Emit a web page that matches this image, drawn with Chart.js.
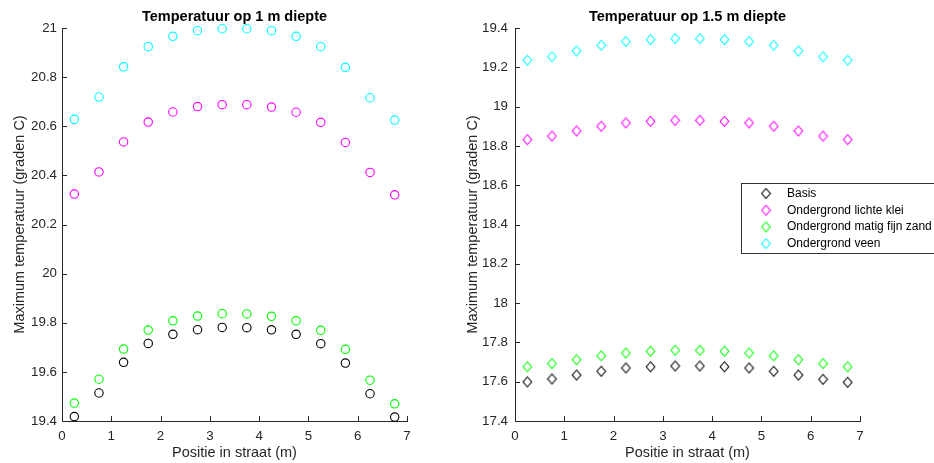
<!DOCTYPE html>
<html>
<head>
<meta charset="utf-8">
<script src="https://cdn.jsdelivr.net/npm/chart.js@4.4.1/dist/chart.umd.min.js"></script>
<style>
  html, body { margin: 0; padding: 0; background: #fff; }
  #wrap { position: relative; width: 934px; height: 463px; overflow: hidden; background: #fff; }
  #wrap canvas { position: absolute; top: 0; }
  #left { left: 0; }
  #right { left: 453px; }
</style>
</head>
<body>
<div id="wrap">
  <canvas id="left" width="453" height="463"></canvas>
  <canvas id="right" width="481" height="463"></canvas>
</div>
<script>
// positie in de straat (m)
const positie = [0.25, 0.75, 1.25, 1.75, 2.25, 2.75, 3.25, 3.75, 4.25, 4.75, 5.25, 5.75, 6.25, 6.75];

// maximum temperatuur op 1 m diepte
const basis1m = [19.418, 19.514, 19.639, 19.716, 19.753, 19.772, 19.781, 19.780, 19.771, 19.753, 19.715, 19.636, 19.511, 19.416];
const klei1m  = [20.324, 20.414, 20.536, 20.617, 20.658, 20.680, 20.688, 20.688, 20.678, 20.657, 20.616, 20.534, 20.412, 20.321];
const zand1m  = [19.473, 19.570, 19.693, 19.770, 19.808, 19.827, 19.837, 19.836, 19.826, 19.808, 19.769, 19.692, 19.566, 19.470];
const veen1m  = [20.628, 20.719, 20.842, 20.924, 20.966, 20.989, 20.997, 20.997, 20.989, 20.966, 20.924, 20.840, 20.716, 20.625];

// maximum temperatuur op 1.5 m diepte
const basis15m = [17.599, 17.614, 17.634, 17.653, 17.670, 17.676, 17.680, 17.680, 17.676, 17.670, 17.653, 17.634, 17.612, 17.597];
const klei15m  = [18.832, 18.850, 18.876, 18.900, 18.917, 18.925, 18.930, 18.930, 18.925, 18.917, 18.900, 18.876, 18.850, 18.832];
const zand15m  = [17.676, 17.692, 17.712, 17.732, 17.746, 17.755, 17.760, 17.760, 17.755, 17.746, 17.732, 17.712, 17.692, 17.676];
const veen15m  = [19.236, 19.254, 19.283, 19.312, 19.331, 19.341, 19.346, 19.346, 19.341, 19.331, 19.312, 19.283, 19.254, 19.236];

const reeksen = ['Basis', 'Ondergrond lichte klei', 'Ondergrond matig fijn zand', 'Ondergrond veen'];
const kleuren = ['#000000', '#ff00ff', '#00ff00', '#00ffff'];

// as-ticks
const xTicks = [0, 1, 2, 3, 4, 5, 6, 7];
const yTicks1m = [19.4, 19.6, 19.8, 20, 20.2, 20.4, 20.6, 20.8, 21];
const yTicks15m = [17.4, 17.6, 17.8, 18, 18.2, 18.4, 18.6, 18.8, 19, 19.2, 19.4];

const AXIS = '#262626';
const FONT = "'Liberation Sans', Arial, Helvetica, sans-serif";

// ruit-marker (iets hoger dan breed)
function ruit(kleur) {
  const c = document.createElement('canvas');
  c.width = 11; c.height = 13;
  const g = c.getContext('2d');
  g.strokeStyle = kleur;
  g.lineWidth = 1.1;
  g.beginPath();
  g.moveTo(5.5, 1.5);
  g.lineTo(9.8, 6.5);
  g.lineTo(5.5, 11.5);
  g.lineTo(1.2, 6.5);
  g.closePath();
  g.stroke();
  return c;
}
const ruiten = kleuren.map(ruit);

function points(ys) {
  return ys.map((y, i) => ({ x: positie[i], y: y }));
}

// korte tickstreepjes naar binnen, zoals bij MATLAB
const inwardTicks = {
  id: 'inwardTicks',
  afterDraw(chart) {
    const ctx = chart.ctx;
    const xs = chart.scales.x, ys = chart.scales.y;
    const a = chart.chartArea;
    ctx.save();
    ctx.strokeStyle = AXIS;
    ctx.lineWidth = 1;
    ctx.beginPath();
    xs.ticks.forEach(t => {
      const p = Math.round(xs.getPixelForValue(t.value)) + 0.5;
      ctx.moveTo(p, a.bottom);
      ctx.lineTo(p, a.bottom - 5);
    });
    ys.ticks.forEach(t => {
      const p = Math.round(ys.getPixelForValue(t.value)) + 0.5;
      ctx.moveTo(a.left, p);
      ctx.lineTo(a.left + 5, p);
    });
    ctx.stroke();
    ctx.restore();
  }
};

const plotTitle = {
  id: 'plotTitle',
  afterDraw(chart, args, opts) {
    const ctx = chart.ctx;
    const a = chart.chartArea;
    ctx.save();
    ctx.fillStyle = '#000';
    ctx.font = 'bold 14.5px ' + FONT;
    ctx.textAlign = 'center';
    ctx.textBaseline = 'middle';
    ctx.fillText(opts.text, (a.left + a.right) / 2, 16.5);
    ctx.restore();
  }
};

const boxLegend = {
  id: 'boxLegend',
  afterDraw(chart, args, opts) {
    if (!opts.show) return;
    const ctx = chart.ctx;
    const x0 = 288, y0 = 183, w = 220, h = 70;
    ctx.save();
    ctx.fillStyle = '#fff';
    ctx.fillRect(x0, y0, w, h);
    ctx.strokeStyle = '#333';
    ctx.lineWidth = 1;
    ctx.strokeRect(x0 + 0.5, y0 + 0.5, w, h);
    ctx.font = '12px ' + FONT;
    ctx.fillStyle = '#000';
    ctx.textBaseline = 'middle';
    chart.data.datasets.forEach((ds, i) => {
      const y = y0 + 10.5 + i * 16.7;
      const img = ds.pointStyle;
      ctx.drawImage(img, 313 - img.width / 2, y - img.height / 2);
      ctx.fillText(ds.label, 334, y);
    });
    ctx.restore();
  }
};

function maakGrafiek(id, reeksData, yTicks, titel, marker, legenda) {
  const datasets = reeksData.map((ys, i) => ({
    label: reeksen[i],
    data: points(ys),
    borderColor: kleuren[i],
    backgroundColor: 'rgba(0,0,0,0)',
    pointStyle: marker === 'ruit' ? ruiten[i] : 'circle',
    pointRadius: 4.2,
    pointBorderWidth: 1.1,
    showLine: false,
    clip: false
  }));
  const yMin = yTicks[0], yMax = yTicks[yTicks.length - 1];
  return new Chart(document.getElementById(id), {
    type: 'scatter',
    data: { datasets: datasets },
    options: {
      responsive: false,
      animation: false,
      events: [],
      layout: { padding: { top: 28, right: id === 'left' ? 46 : 74, bottom: 0, left: 0 } },
      plugins: {
        legend: { display: false },
        tooltip: { enabled: false },
        plotTitle: { text: titel },
        boxLegend: { show: legenda }
      },
      scales: {
        x: {
          type: 'linear',
          min: 0, max: 7,
          afterBuildTicks: s => { s.ticks = xTicks.map(v => ({ value: v })); },
          afterFit: s => { s.height = 42; },
          grid: { display: false, drawTicks: false },
          border: { display: true, color: AXIS, width: 1 },
          ticks: { color: AXIS, font: { family: FONT, size: 13.3 }, padding: 7, maxRotation: 0,
                   callback: v => String(v) },
          title: { display: true, text: 'Positie in straat (m)', color: AXIS,
                   font: { family: FONT, size: 14.5 }, padding: { top: 0, bottom: 1 } }
        },
        y: {
          type: 'linear',
          min: yMin, max: yMax,
          afterBuildTicks: s => { s.ticks = yTicks.map(v => ({ value: v })); },
          afterFit: s => { s.width = 62; },
          grid: { display: false, drawTicks: false },
          border: { display: true, color: AXIS, width: 1 },
          ticks: { color: AXIS, font: { family: FONT, size: 13.3 }, padding: id === 'left' ? 5 : 7,
                   callback: v => String(parseFloat(v.toFixed(1))) },
          title: { display: true, text: 'Maximum temperatuur (graden C)', color: AXIS,
                   font: { family: FONT, size: 14.5 }, padding: { top: 11, bottom: 0 } }
        }
      }
    },
    plugins: [inwardTicks, plotTitle, boxLegend]
  });
}

maakGrafiek('left', [basis1m, klei1m, zand1m, veen1m], yTicks1m,
  'Temperatuur op 1 m diepte', 'cirkel', false);
maakGrafiek('right', [basis15m, klei15m, zand15m, veen15m], yTicks15m,
  'Temperatuur op 1.5 m diepte', 'ruit', true);
</script>
</body>
</html>
